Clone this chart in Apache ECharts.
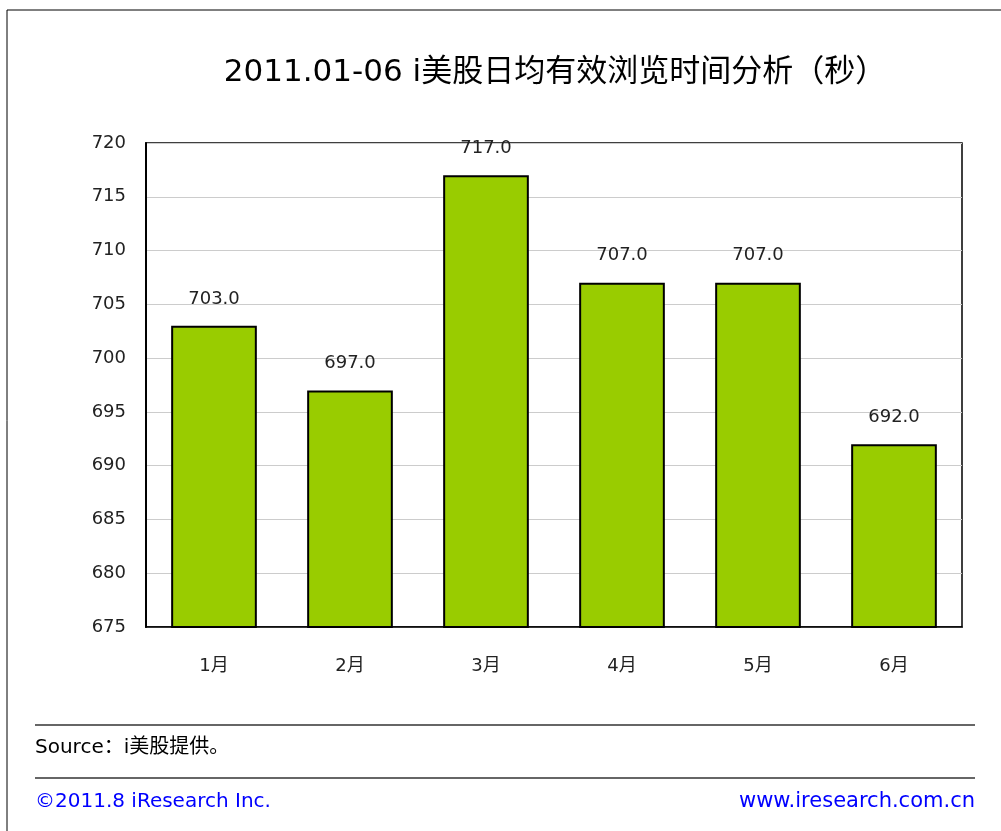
<!DOCTYPE html>
<html>
<head>
<meta charset="utf-8">
<script src="https://cdn.jsdelivr.net/npm/echarts@6/dist/echarts.min.js"></script>
<style>
  html, body { margin: 0; padding: 0; background: #fff; }
  #chart { width: 1001px; height: 831px; }
</style>
</head>
<body>
<div id="chart"></div>
<script>
  const months = ['1月', '2月', '3月', '4月', '5月', '6月']
  const seconds = [703, 697, 717, 707, 707, 692]
  const yTicks = { min: 675, max: 720, step: 5 }

  const font = '"DejaVu Sans", "Noto Sans CJK SC", sans-serif'
  const chart = echarts.init(document.getElementById('chart'))

  const option = {
    animation: false,
    title: {
      text: '2011.01-06 i美股日均有效浏览时间分析（秒）',
      left: 550,
      textAlign: 'center',
      top: 52,
      textStyle: { fontFamily: font, fontSize: 31, fontWeight: 'normal', color: '#000' }
    },
    grid: {
      left: 146, right: 39, top: 143, bottom: 204,
      show: true, borderColor: '#000', borderWidth: 1.5
    },
    xAxis: {
      type: 'category',
      data: months,
      axisLine: { lineStyle: { color: '#000', width: 1.5 } },
      axisTick: { show: false },
      axisLabel: { fontFamily: font, fontSize: 18, color: '#222', margin: 30 }
    },
    yAxis: {
      type: 'value',
      min: yTicks.min,
      max: yTicks.max,
      interval: yTicks.step,
      axisLine: { show: true, lineStyle: { color: '#000', width: 2 } },
      axisTick: { show: false },
      splitLine: { lineStyle: { color: '#ccc', width: 1 } },
      axisLabel: { fontFamily: font, fontSize: 18, color: '#222', margin: 20 }
    },
    series: [{
      type: 'bar',
      data: seconds,
      barWidth: '63%',
      itemStyle: { color: '#99cc00', borderColor: '#000', borderWidth: 2 },
      label: {
        show: true,
        position: 'top',
        distance: 18,
        formatter: p => p.value.toFixed(1),
        fontFamily: font, fontSize: 18, color: '#222'
      }
    }],
    graphic: [
      { type: 'line', shape: { x1: 7, y1: 10, x2: 1001, y2: 10 }, style: { stroke: '#000', lineWidth: 1 } },
      { type: 'line', shape: { x1: 7, y1: 10, x2: 7, y2: 831 }, style: { stroke: '#000', lineWidth: 1 } },
      { type: 'line', shape: { x1: 35, y1: 725, x2: 975, y2: 725 }, style: { stroke: '#333', lineWidth: 1.5 } },
      { type: 'line', shape: { x1: 35, y1: 778, x2: 975, y2: 778 }, style: { stroke: '#333', lineWidth: 1.5 } },
      { type: 'text', left: 35, top: 738, style: { text: 'Source：i美股提供。', fontFamily: font, fontSize: 20, fill: '#000' } },
      { type: 'text', left: 35, top: 792, style: { text: '©2011.8 iResearch Inc.', fontFamily: font, fontSize: 20, fill: '#0000ff' } },
      { type: 'text', right: 26, top: 791, style: { text: 'www.iresearch.com.cn', fontFamily: font, fontSize: 21, fill: '#0000ff' } }
    ]
  }
  chart.setOption(option)
</script>
</body>
</html>
